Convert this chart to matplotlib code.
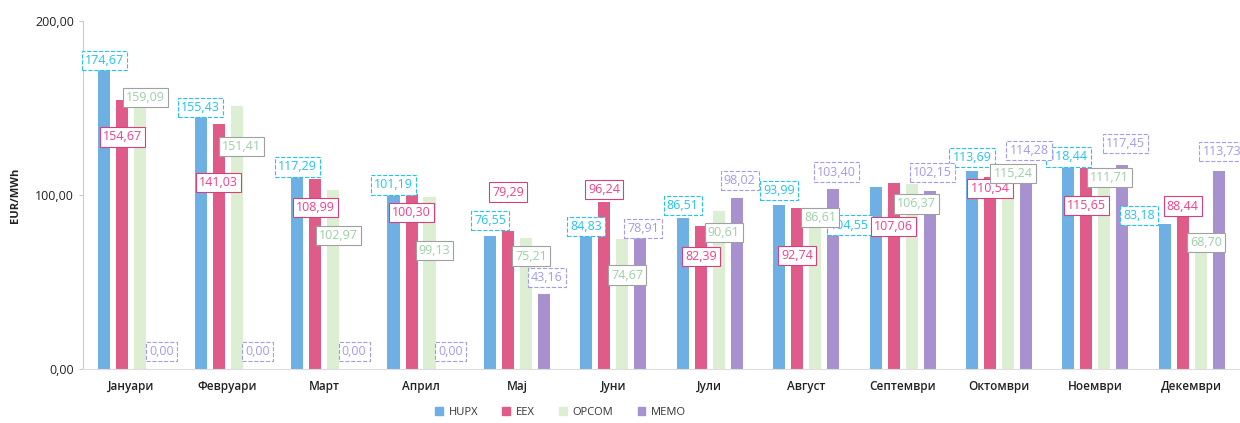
import numpy as np
import matplotlib
matplotlib.use("Agg")
import matplotlib.pyplot as plt
from matplotlib.patches import Patch

plt.rcParams['font.family'] = ['Open Sans', 'DejaVu Sans']

months = ["Јануари", "Февруари", "Март", "Април", "Мај", "Јуни",
          "Јули", "Август", "Септември", "Октомври", "Ноември", "Декември"]
series = ["HUPX", "EEX", "OPCOM", "MEMO"]

hupx  = [174.67, 155.43, 117.29, 101.19, 76.55, 84.83, 86.51, 93.99, 104.55, 113.69, 118.44, 83.18]
eex   = [154.67, 141.03, 108.99, 100.30, 79.29, 96.24, 82.39, 92.74, 107.06, 110.54, 115.65, 88.44]
opcom = [159.09, 151.41, 102.97, 99.13, 75.21, 74.67, 90.61, 86.61, 106.37, 115.24, 111.71, 68.70]
memo  = [0.00, 0.00, 0.00, 0.00, 43.16, 78.91, 98.02, 103.40, 102.15, 114.28, 117.45, 113.73]

# shift of each value label relative to its bar top (pixels, + = up / right)
label_dy = {
    "HUPX":  [5, -9, -2, 8, 15, -5, 13, 15, -38, 14, 6, 9],
    "EEX":   [-37, -59, -28, -18, 39, 12, -31, -48, -44, -12, -38, 9],
    "OPCOM": [-5, -41, -46, -54, -18, -36, -21, 1, -20, -5, -3, 7],
    "MEMO":  [17, 17, 17, 17, 16, 3, 18, 17, 19, 20, 21, 20],
}
label_dx = {
    "HUPX":  [0, 0, 0, 0, 0, 0, 0, 0, -26, 0, 0, -26],
    "EEX":   [0] * 12,
    "OPCOM": [5] * 12,
    "MEMO":  [3] * 12,
}

bar_colors = {"HUPX": "#6fb0e4", "EEX": "#e05c88", "OPCOM": "#dcefd2", "MEMO": "#a891cf"}
txt_colors = {"HUPX": "#22c4ee", "EEX": "#f0408a", "OPCOM": "#9dcfa6", "MEMO": "#a29bea"}
box_edges  = {"HUPX": "#22c4ee", "EEX": "#d8407c", "OPCOM": "#a0a0a0", "MEMO": "#a29bea"}
box_ls     = {"HUPX": "--", "EEX": "-", "OPCOM": "-", "MEMO": "--"}

data = {"HUPX": hupx, "EEX": eex, "OPCOM": opcom, "MEMO": memo}

fig = plt.figure(figsize=(12.4, 4.23), dpi=100)
ax = fig.add_axes([0.067, 0.128, 0.933, 0.822])

x = np.arange(len(months))
w = 0.125
offs = [-0.28, -0.093, 0.093, 0.28]
for s, o in zip(series, offs):
    ax.bar(x + o, data[s], width=w, color=bar_colors[s], zorder=2)

for k, (s, o) in enumerate(zip(series, offs)):
    for i, v in enumerate(data[s]):
        ax.annotate(f"{v:.2f}".replace(".", ","), (x[i] + o, v),
                    xytext=(label_dx[s][i], label_dy[s][i]), textcoords="offset pixels",
                    ha="center", va="center", fontsize=9, color=txt_colors[s],
                    zorder=5 + k,
                    bbox=dict(boxstyle="square,pad=0.25", fc="white",
                              ec=box_edges[s], lw=0.8, ls=box_ls[s]))

ax.set_xlim(-0.5, len(months) - 0.5)
ax.set_ylim(0, 200)
ax.set_yticks([0, 100, 200])
ax.set_yticklabels(["0,00", "100,00", "200,00"], fontsize=9, color="#222222")
ax.set_xticks(x)
ax.set_xticklabels(months, fontsize=8.5, color="#222222", fontweight="semibold")
ax.tick_params(axis="x", length=0, pad=8)
ax.tick_params(axis="y", length=3, color="#cccccc")
ax.set_ylabel("EUR/MWh", fontsize=8, fontweight="bold", color="#222222", labelpad=10)
for sp in ["top", "right"]:
    ax.spines[sp].set_visible(False)
ax.spines["left"].set_color("#cccccc")
ax.spines["bottom"].set_color("#dddddd")

fig.legend(handles=[Patch(color=bar_colors[s], label=s) for s in series],
           loc="center", bbox_to_anchor=(0.452, 0.026), ncol=4, frameon=False,
           fontsize=8, handlelength=0.7, handleheight=0.7, columnspacing=2.2,
           handletextpad=0.5, labelcolor="#333333")

fig.savefig("out.png", dpi=100)
